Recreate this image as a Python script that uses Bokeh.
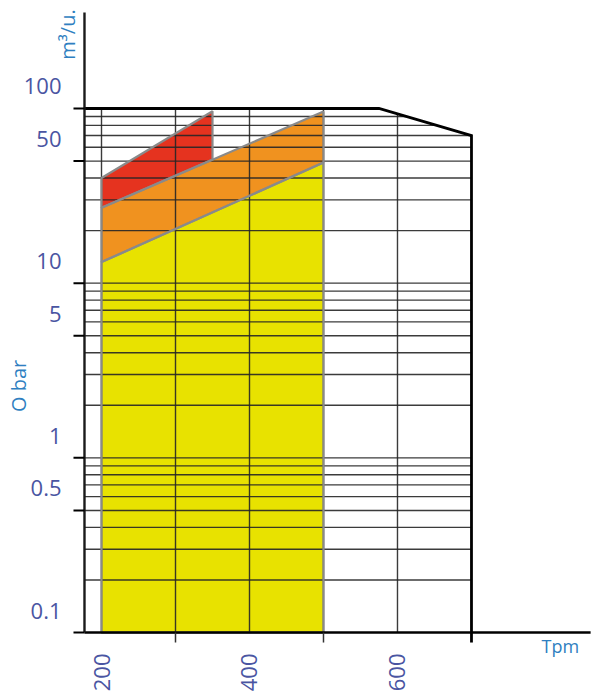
import math
from bokeh.plotting import figure
from bokeh.models import Range1d, LogScale
from bokeh.embed import file_html
from bokeh.resources import INLINE
from bokeh.core.properties import value

# ---------------- data ----------------
rpm_grid = [200, 300, 400, 500, 600]
rpm_limit = 700
y_ticks = [0.1, 0.5, 1, 5, 10, 50, 100]
y_tick_labels = ["0.1", "0.5", "1", "5", "10", "50", "100"]
y_minor = [0.2, 0.3, 0.4, 0.6, 0.7, 0.8, 0.9,
           2, 3, 4, 6, 7, 8, 9,
           20, 30, 40, 60, 70, 80, 90]
x_label_values = [200, 400, 600]
x_labels = ["200", "400", "600"]
x_tick_values = [300, 500]

# limit curve: flat at 100 until the corner, then down to 70 at 700 rpm
envelope_x = [575, 700]
envelope_y = [100, 70]

yellow_x = [200, 500]
yellow_top = [13.2, 49]
orange_x = [200, 500]
orange_top = [27, 96]
red_x = [200, 350]
red_bottom = [27, 51]
red_top = [40, 96.5]

# ---------------- layout constants ----------------
y_min = y_ticks[0]
y_max = y_ticks[-1]
axis_x = 177        # rpm position of the vertical axis line
axis_top = 355      # top of vertical axis line
axis_right = 861    # end of horizontal axis line

RED = "#e5331f"
ORANGE = "#f0921f"
YELLOW = "#e8e200"
OUTLINE = "#8a8a8a"
GRID = "#262626"
LABEL = "#4a55a2"
TITLE = "#2f7fc1"
FONT = value("Open Sans")

p = figure(width=595, height=691,
           x_range=Range1d(63.5, 867.6), y_range=Range1d(0.04596, 415.2),
           y_scale=LogScale(), y_axis_type="log",
           x_axis_location=None, y_axis_location=None,
           toolbar_location=None, output_backend="svg",
           min_border=0, outline_line_color=None)
p.grid.visible = False
p.title.visible = False
p.background_fill_color = "white"
p.border_fill_color = "white"

# ---------------- filled regions ----------------
yellow_xs = [yellow_x[0], yellow_x[0], yellow_x[1], yellow_x[1]]
yellow_ys = [y_min, yellow_top[0], yellow_top[1], y_min]
orange_xs = [orange_x[0], orange_x[0], orange_x[1], orange_x[1]]
orange_ys = [yellow_top[0], orange_top[0], orange_top[1], yellow_top[1]]
red_xs = [red_x[0], red_x[0], red_x[1], red_x[1]]
red_ys = [red_bottom[0], red_top[0], red_top[1], red_bottom[1]]

for xs, ys, c in [(yellow_xs, yellow_ys, YELLOW), (orange_xs, orange_ys, ORANGE), (red_xs, red_ys, RED)]:
    p.patch(xs, ys, fill_color=c, line_color=None)

# ---------------- grid ----------------
lt, lb = math.log10(envelope_y[0]), math.log10(envelope_y[1])


def right_edge(v):
    if v <= envelope_y[1]:
        return rpm_limit
    f = (lt - math.log10(v)) / (lt - lb)
    return envelope_x[0] + f * (envelope_x[1] - envelope_x[0])


def top_edge(r):
    if r <= envelope_x[0]:
        return y_max
    f = (r - envelope_x[0]) / (envelope_x[1] - envelope_x[0])
    return 10 ** (lt - f * (lt - lb))


h_vals = sorted(y_minor + y_ticks[1:-1])
p.segment(x0=[axis_x] * len(h_vals), y0=h_vals,
          x1=[right_edge(v) for v in h_vals], y1=h_vals,
          line_color=GRID, line_width=1.4, line_alpha=0.9)
p.segment(x0=rpm_grid, y0=[y_min] * len(rpm_grid),
          x1=rpm_grid, y1=[top_edge(r) for r in rpm_grid],
          line_color=GRID, line_width=1.4, line_alpha=0.9)

# ---------------- outlines ----------------
for xs, ys in [(yellow_xs, yellow_ys), (orange_xs, orange_ys), (red_xs, red_ys)]:
    p.patch(xs, ys, fill_alpha=0, line_color=OUTLINE, line_width=2.2)

# ---------------- axes & envelope ----------------
p.line([axis_x, envelope_x[0], envelope_x[1], rpm_limit],
       [y_max, envelope_y[0], envelope_y[1], y_min],
       line_color="black", line_width=2.8, line_join="miter")
p.line([axis_x, axis_right], [y_min, y_min], line_color="black", line_width=2.4)
p.line([axis_x, axis_x], [y_min, axis_top], line_color="#1a1a1a", line_width=2.4)

# ticks
p.ray(x=[axis_x] * len(y_ticks), y=y_ticks, length=11, length_units="screen",
      angle=math.pi, line_color="black", line_width=2)
p.ray(x=x_tick_values, y=[y_min] * len(x_tick_values), length=10, length_units="screen",
      angle=-math.pi / 2, line_color="#333333", line_width=1.5)
p.ray(x=[rpm_limit], y=[y_min], length=10, length_units="screen",
      angle=-math.pi / 2, line_color="black", line_width=2.8)

# ---------------- texts ----------------
p.text(x=[axis_x] * len(y_ticks), y=y_ticks, text=y_tick_labels,
       x_offset=-23, y_offset=-22, text_align="right", text_baseline="middle",
       text_font=FONT, text_font_size="22px", text_color=LABEL)
p.text(x=x_label_values, y=[y_min] * len(x_labels), text=x_labels,
       angle=math.pi / 2, y_offset=21, text_align="right", text_baseline="middle",
       text_font=FONT, text_font_size="22px", text_color=LABEL)
p.text(x=[axis_x], y=[y_max], text=["m³/u."], angle=math.pi / 2,
       x_offset=-17, y_offset=-74, text_align="center", text_baseline="middle",
       text_font=FONT, text_font_size="20px", text_color=TITLE)
p.text(x=[axis_x], y=[1], text=["O bar"], angle=math.pi / 2,
       x_offset=-66, y_offset=-72, text_align="center", text_baseline="middle",
       text_font=FONT, text_font_size="20px", text_color=TITLE)
p.text(x=[820], y=[y_min], text=["Tpm"],
       y_offset=13, text_align="center", text_baseline="middle",
       text_font=FONT, text_font_size="18px", text_color=TITLE)

open("out.html", "w").write(file_html(p, INLINE))
